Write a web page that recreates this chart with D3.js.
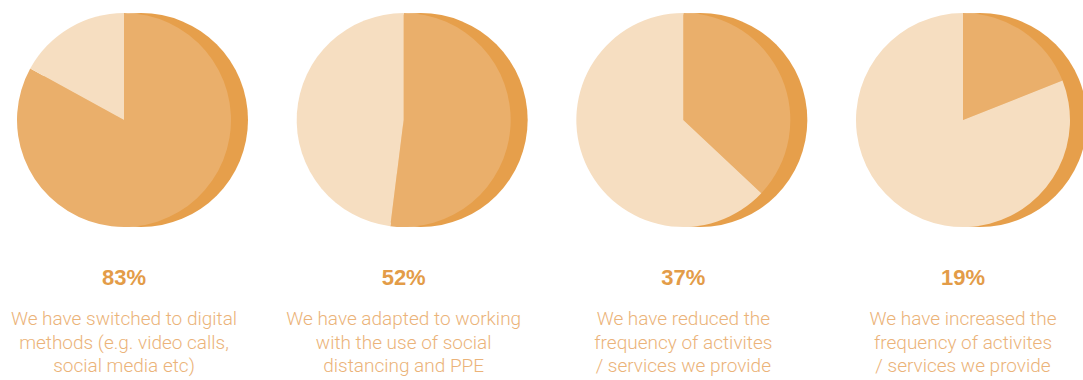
<!DOCTYPE html>
<html>
<head>
<meta charset="utf-8">
<script src="https://cdn.jsdelivr.net/npm/d3@7"></script>
<style>
  html, body { margin: 0; padding: 0; background: #ffffff; }
  svg { display: block; }
</style>
</head>
<body>
<svg id="chart" width="1083" height="380"></svg>
<script>
// Share of organisations reporting each change (percent)
const values = [83, 52, 37, 19];

// Statement under each pie, one entry per line
const labels = [
  ["We have switched to digital", "methods (e.g. video calls,", "social media etc)"],
  ["We have adapted to working", "with the use of social", "distancing and PPE"],
  ["We have reduced the", "frequency of activites", "/ services we provide"],
  ["We have increased the", "frequency of activites", "/ services we provide"]
];

const width = 1083, height = 380;
const radius = 107;
const shadowOffset = 17;
const cy = 120;

const colors = {
  shadow: "#E69F4B",
  share: "#EAAF6B",
  rest: "#F6DEC1",
  percent: "#E39C48",
  label: "#EBB379"
};

const svg = d3.select("#chart");

const x = d3.scalePoint()
  .domain(d3.range(values.length))
  .range([124, 963]);

const pie = d3.pie().sort(null).value(d => d);
const arc = d3.arc().innerRadius(0).outerRadius(radius);

const panels = svg.selectAll("g.panel")
  .data(values)
  .join("g")
  .attr("class", "panel")
  .attr("transform", (d, i) => `translate(${x(i)},0)`);

// darker disc behind each pie for the raised edge
panels.append("circle")
  .attr("cx", shadowOffset)
  .attr("cy", cy)
  .attr("r", radius)
  .attr("fill", colors.shadow);

panels.append("g")
  .attr("transform", `translate(0,${cy})`)
  .selectAll("path")
  .data(d => pie([d, 100 - d]))
  .join("path")
  .attr("d", arc)
  .attr("fill", (d, i) => i === 0 ? colors.share : colors.rest);

panels.append("text")
  .attr("x", 0)
  .attr("y", 285)
  .attr("text-anchor", "middle")
  .attr("font-family", "'Liberation Sans', Arial, sans-serif")
  .attr("font-weight", "bold")
  .attr("font-size", 22)
  .attr("fill", colors.percent)
  .text(d => d + "%");

panels.append("text")
  .attr("text-anchor", "middle")
  .attr("font-family", "Roboto, 'Liberation Sans', sans-serif")
  .attr("font-weight", 300)
  .attr("font-size", 19)
  .attr("fill", colors.label)
  .selectAll("tspan")
  .data((d, i) => labels[i])
  .join("tspan")
  .attr("x", 0)
  .attr("y", (d, j) => 325 + j * 23.5)
  .text(d => d);
</script>
</body>
</html>
